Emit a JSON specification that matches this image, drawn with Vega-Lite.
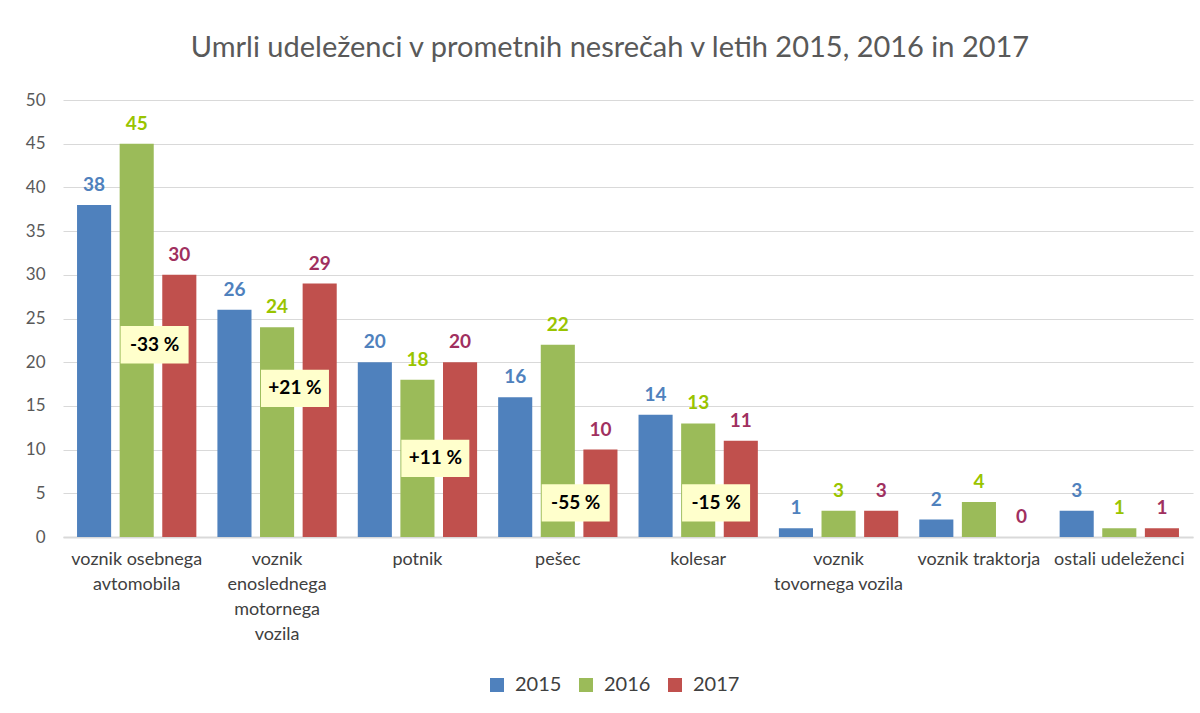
{
  "$schema": "https://vega.github.io/schema/vega-lite/v6.json",
  "width": 1130,
  "height": 437,
  "autosize": {"type": "none"},
  "padding": {"left": 63, "top": 100, "right": 7, "bottom": 176},
  "background": "white",
  "datasets": {
    "umrli": [
      {"kategorija": "voznik osebnega avtomobila", "leto": "2015", "vrednost": 38},
      {"kategorija": "voznik osebnega avtomobila", "leto": "2016", "vrednost": 45},
      {"kategorija": "voznik osebnega avtomobila", "leto": "2017", "vrednost": 30},
      {"kategorija": "voznik enoslednega motornega vozila", "leto": "2015", "vrednost": 26},
      {"kategorija": "voznik enoslednega motornega vozila", "leto": "2016", "vrednost": 24},
      {"kategorija": "voznik enoslednega motornega vozila", "leto": "2017", "vrednost": 29},
      {"kategorija": "potnik", "leto": "2015", "vrednost": 20},
      {"kategorija": "potnik", "leto": "2016", "vrednost": 18},
      {"kategorija": "potnik", "leto": "2017", "vrednost": 20},
      {"kategorija": "pešec", "leto": "2015", "vrednost": 16},
      {"kategorija": "pešec", "leto": "2016", "vrednost": 22},
      {"kategorija": "pešec", "leto": "2017", "vrednost": 10},
      {"kategorija": "kolesar", "leto": "2015", "vrednost": 14},
      {"kategorija": "kolesar", "leto": "2016", "vrednost": 13},
      {"kategorija": "kolesar", "leto": "2017", "vrednost": 11},
      {"kategorija": "voznik tovornega vozila", "leto": "2015", "vrednost": 1},
      {"kategorija": "voznik tovornega vozila", "leto": "2016", "vrednost": 3},
      {"kategorija": "voznik tovornega vozila", "leto": "2017", "vrednost": 3},
      {"kategorija": "voznik traktorja", "leto": "2015", "vrednost": 2},
      {"kategorija": "voznik traktorja", "leto": "2016", "vrednost": 4},
      {"kategorija": "voznik traktorja", "leto": "2017", "vrednost": 0},
      {"kategorija": "ostali udeleženci", "leto": "2015", "vrednost": 3},
      {"kategorija": "ostali udeleženci", "leto": "2016", "vrednost": 1},
      {"kategorija": "ostali udeleženci", "leto": "2017", "vrednost": 1}
    ],
    "spremembe": [
      {"kategorija": "voznik osebnega avtomobila", "sprememba": "-33 %", "sidro": 22},
      {"kategorija": "voznik enoslednega motornega vozila", "sprememba": "+21 %", "sidro": 17},
      {"kategorija": "potnik", "sprememba": "+11 %", "sidro": 9},
      {"kategorija": "pešec", "sprememba": "-55 %", "sidro": 3.9},
      {"kategorija": "kolesar", "sprememba": "-15 %", "sidro": 3.9}
    ]
  },
  "title": {
    "text": "Umrli udeleženci  v prometnih nesrečah v letih 2015, 2016 in 2017",
    "font": "Lato",
    "fontSize": 29,
    "fontWeight": "normal",
    "color": "#595959",
    "anchor": "middle",
    "dx": -18,
    "offset": 28
  },
  "config": {
    "font": "Lato",
    "view": {"stroke": null},
    "axisX": {
      "domainColor": "#D9D9D9",
      "domainWidth": 2,
      "ticks": false,
      "grid": false,
      "labelAngle": 0,
      "labelFontSize": 18,
      "labelColor": "#404040",
      "labelPadding": 13,
      "labelLineHeight": 25,
      "labelBaseline": "top",
      "title": null
    },
    "axisY": {
      "domain": false,
      "ticks": false,
      "gridColor": "#D9D9D9",
      "gridWidth": 1,
      "labelFontSize": 17,
      "labelColor": "#595959",
      "labelPadding": 18,
      "title": null
    }
  },
  "resolve": {"scale": {"color": "independent", "fill": "independent"}},
  "layer": [
    {
      "data": {"name": "umrli"},
      "mark": {"type": "bar"},
      "encoding": {
        "x": {
          "field": "kategorija",
          "type": "nominal",
          "scale": {
            "domain": ["voznik osebnega avtomobila", "voznik enoslednega motornega vozila", "potnik", "pešec", "kolesar", "voznik tovornega vozila", "voznik traktorja", "ostali udeleženci"],
            "paddingInner": 0.15,
            "paddingOuter": 0.1
          },
          "axis": {
            "labelExpr": "datum.value == 'voznik osebnega avtomobila' ? ['voznik osebnega', 'avtomobila'] : datum.value == 'voznik enoslednega motornega vozila' ? ['voznik', 'enoslednega', 'motornega', 'vozila'] : datum.value == 'voznik tovornega vozila' ? ['voznik', 'tovornega vozila'] : datum.value"
          }
        },
        "xOffset": {
          "field": "leto",
          "type": "nominal",
          "scale": {"paddingInner": 0.2, "paddingOuter": 0}
        },
        "y": {
          "field": "vrednost",
          "type": "quantitative",
          "scale": {"domain": [0, 50], "nice": false},
          "axis": {"values": [0, 5, 10, 15, 20, 25, 30, 35, 40, 45, 50]}
        },
        "color": {
          "field": "leto",
          "type": "nominal",
          "scale": {"domain": ["2015", "2016", "2017"], "range": ["#4F81BD", "#9BBB59", "#C0504D"]},
          "legend": {
            "orient": "none",
            "legendX": 424,
            "legendY": 575,
            "direction": "horizontal",
            "title": null,
            "symbolType": "square",
            "symbolSize": 196,
            "symbolStrokeWidth": 0,
            "labelFontSize": 20,
            "labelColor": "#404040",
            "labelOffset": 8,
            "columnPadding": 14
          }
        }
      }
    },
    {
      "data": {"name": "umrli"},
      "mark": {"type": "text", "baseline": "alphabetic", "dy": -14, "fontSize": 19, "fontWeight": "bold"},
      "encoding": {
        "x": {"field": "kategorija", "type": "nominal"},
        "xOffset": {"field": "leto", "type": "nominal"},
        "y": {"field": "vrednost", "type": "quantitative"},
        "text": {"field": "vrednost", "type": "quantitative"},
        "fill": {
          "field": "leto",
          "type": "nominal",
          "scale": {"domain": ["2015", "2016", "2017"], "range": ["#4F81BD", "#99C400", "#A0305F"]},
          "legend": null
        }
      }
    },
    {
      "data": {"name": "spremembe"},
      "mark": {
        "type": "point",
        "shape": "M-1,-0.55H1V0.55H-1Z",
        "filled": true,
        "fill": "#FFFFCC",
        "opacity": 1,
        "strokeWidth": 0,
        "size": 4624
      },
      "encoding": {
        "x": {"field": "kategorija", "type": "nominal", "bandPosition": 0.65},
        "y": {"field": "sidro", "type": "quantitative"}
      }
    },
    {
      "data": {"name": "spremembe"},
      "mark": {"type": "text", "baseline": "middle", "align": "center", "fontSize": 19, "fontWeight": "bold", "color": "#000000"},
      "encoding": {
        "x": {"field": "kategorija", "type": "nominal", "bandPosition": 0.65},
        "y": {"field": "sidro", "type": "quantitative"},
        "text": {"field": "sprememba", "type": "nominal"}
      }
    }
  ]
}
